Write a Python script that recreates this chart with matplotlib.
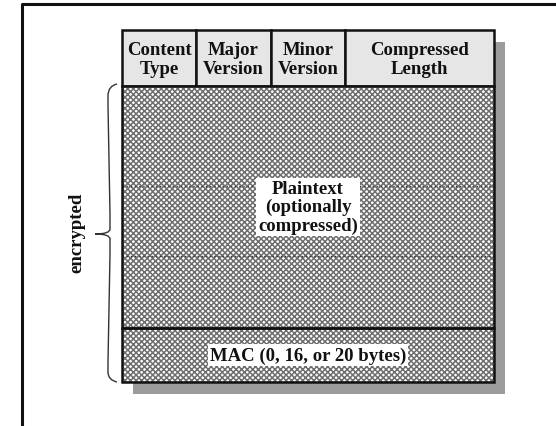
"""SSL record format diagram: header fields over an encrypted, hatched body."""

import matplotlib

matplotlib.use("Agg")
import matplotlib.pyplot as plt
from matplotlib.patches import Rectangle, PathPatch
from matplotlib.path import Path

# Header fields and their sizes in bytes
header_labels = ["Content\nType", "Major\nVersion", "Minor\nVersion", "Compressed\nLength"]
header_bytes = [1, 1, 1, 2]

# Body sections (top to bottom) and their relative heights
body_labels = ["Plaintext\n(optionally\ncompressed)", "MAC (0, 16, or 20 bytes)"]
body_heights = [242, 54]

side_label = "encrypted"

plt.rcParams["hatch.linewidth"] = 1.1
FONT = dict(family=["Liberation Serif", "DejaVu Serif"], fontweight="bold", fontsize=13.5, color="#111111")

fig = plt.figure(figsize=(5.56, 4.27), dpi=100)
ax = fig.add_axes([0, 0, 1, 1])
ax.set_xlim(0, 556)
ax.set_ylim(427, 0)
ax.axis("off")

# outer frame (only top and left edges are inside the picture)
ax.plot([22, 22, 556], [427, 5, 5], color="#111111", lw=2.2, solid_capstyle="butt")

left, right = 122, 494
top, head_h = 31, 56
byte_w = (right - left) / sum(header_bytes)
body_top = top + head_h
bottom = body_top + sum(body_heights)

# drop shadow
ax.add_patch(Rectangle((left + 11, top + 12), right - left, bottom - top,
                       facecolor="#9b9b9b", edgecolor="none", zorder=1))

# header cells
x = left
for lab, nb in zip(header_labels, header_bytes):
    w = nb * byte_w
    ax.add_patch(Rectangle((x, top), w, head_h, facecolor="#e6e6e6",
                           edgecolor="#111111", lw=1.8, zorder=2))
    ax.text(x + w / 2, top + head_h / 2 + 1, lab, ha="center", va="center",
            linespacing=1.12, zorder=5, **FONT)
    x += w

# hatched body
y = body_top
for lab, h in zip(body_labels, body_heights):
    ax.add_patch(Rectangle((left, y), right - left, h, facecolor="white",
                           edgecolor="#6e6e6e", lw=0, hatch="xxxxxx", zorder=2))
    ax.add_patch(Rectangle((left, y), right - left, h, facecolor="none",
                           edgecolor="#111111", lw=1.8, zorder=3))
    ax.text((left + right) / 2, y + h / 2, lab, ha="center", va="center",
            linespacing=1.12, zorder=5,
            bbox=dict(facecolor="white", edgecolor="none", pad=1.5), **FONT)
    y += h

# faint dotted rows inside plaintext (variable length)
for yy in (187, 257):
    ax.plot([left, right], [yy, yy], color="#333333", lw=1.0, ls=(0, (1, 2)), zorder=2.5)

# curly brace on the left
mid = (body_top + bottom) / 2
xe, xb, xt = 117, 108, 95
verts = [
    (xe, body_top - 2), (xb, body_top), (xb, body_top + 10), (xb, body_top + 20),
    (xb + 2, mid - 20), (xb + 2, mid - 5), (xb + 2, mid), (xt, mid),
    (xb + 2, mid), (xb + 2, mid + 5), (xb + 2, mid + 20),
    (xb, bottom - 20), (xb, bottom - 10), (xb, bottom - 2), (xe, bottom),
]
codes = [Path.MOVETO, Path.CURVE3, Path.CURVE3, Path.LINETO,
         Path.LINETO, Path.LINETO, Path.CURVE3, Path.CURVE3,
         Path.CURVE3, Path.CURVE3, Path.LINETO,
         Path.LINETO, Path.LINETO, Path.CURVE3, Path.CURVE3]
ax.add_patch(PathPatch(Path(verts, codes), facecolor="none", edgecolor="#333333", lw=1.0, zorder=4))

ax.text(77, mid - 2, side_label, rotation=90, ha="center", va="center", **FONT)

fig.savefig("out.png", dpi=100)
